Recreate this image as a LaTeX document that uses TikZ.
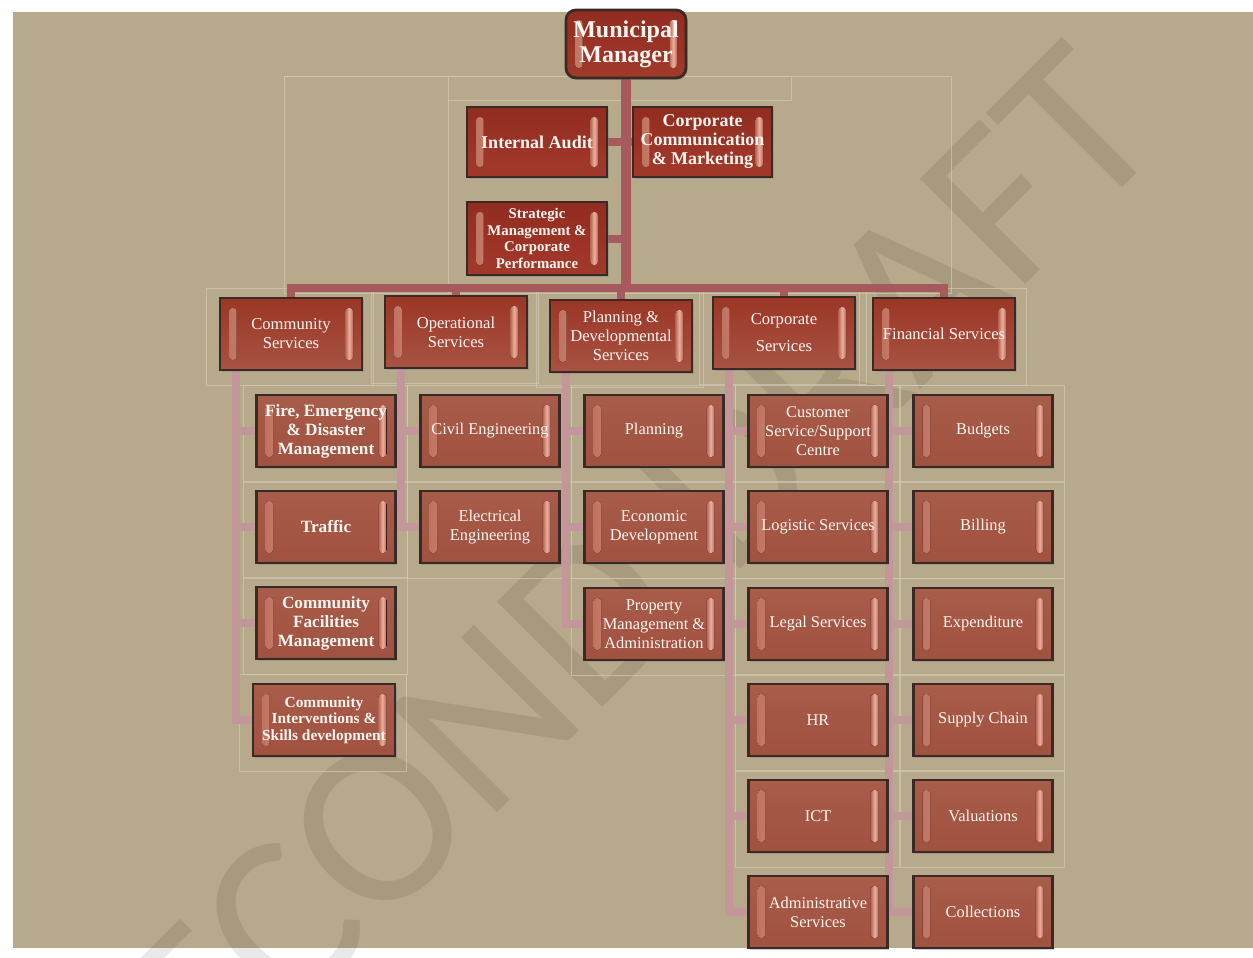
\documentclass[tikz,border=0pt]{standalone}
\usepackage{fontspec}
\setmainfont{Liberation Serif}
\newfontfamily\wmfont{Carlito}
\usetikzlibrary{calc,shadows}
\definecolor{tanbg}{HTML}{B7A98B}
\definecolor{boxborder}{HTML}{3A2A25}
\definecolor{topT}{HTML}{922C20}
\definecolor{topB}{HTML}{A23A2C}
\definecolor{deptT}{HTML}{9B3626}
\definecolor{deptB}{HTML}{A85343}
\definecolor{subT}{HTML}{A85C4A}
\definecolor{subB}{HTML}{A15140}
\definecolor{hlo}{HTML}{B86A58}
\definecolor{hli}{HTML}{EDAE9E}
\definecolor{boxtext}{HTML}{FFF6F2}
\definecolor{topc}{HTML}{A75A5B}
\definecolor{railc}{HTML}{C39799}
\definecolor{ghost}{HTML}{D2C9B4}
\pgfdeclarelayer{back}
\pgfdeclarelayer{conn}
\pgfsetlayers{back,conn,main}
\tikzset{
  obox/.style={draw=boxborder, line width=1.4pt, text=boxtext, align=center, inner sep=1pt,
    drop shadow={shadow xshift=0.9pt,shadow yshift=-0.9pt,opacity=0.4},
    path picture={
      \fill[left color=hlo,right color=hlo,middle color=hli,rounded corners=1.6pt]
        ($(path picture bounding box.south west)+(4.5pt,5pt)$) rectangle
        ($(path picture bounding box.north west)+(8.3pt,-5pt)$);
      \fill[left color=hlo,right color=hlo,middle color=hli,rounded corners=1.6pt]
        ($(path picture bounding box.south east)+(-4.5pt,5pt)$) rectangle
        ($(path picture bounding box.north east)+(-8.3pt,-5pt)$);
    }},
  topbox/.style={obox, minimum width=70pt, minimum height=35pt, top color=topT, bottom color=topB},
  dept/.style={obox, minimum width=71pt, minimum height=36pt, top color=deptT, bottom color=deptB,
    font=\fontsize{8.3}{9.5}\selectfont},
  sub/.style={obox, minimum width=69.5pt, minimum height=36pt, top color=subT, bottom color=subB,
    font=\fontsize{8.2}{9.5}\selectfont},
  subb/.style={sub, font=\fontsize{8.6}{9.5}\selectfont\bfseries},
  wm/.style={rotate=45, anchor=base east, inner sep=0pt, font=\wmfont\fontsize{116}{116}\selectfont},
  topline/.style={draw=topc, line width=4pt},
  rail/.style={draw=railc, line width=4pt},
  ghostline/.style={draw=ghost, line width=0.4pt, opacity=0.7}
}
\begin{document}
\begin{tikzpicture}[x=0.5pt,y=-0.5pt]
\useasboundingbox (0,0) rectangle (1253,958);
\begin{pgfonlayer}{back}
\fill[white] (0,0) rectangle (1253,958);
\fill[tanbg] (13,12) rectangle (1253,948);
\node[wm, text=black, opacity=0.085] (wmark) at (1170,140) {SECOND DRAFT};
\draw[ghostline] (284,76) rectangle (951,293);
\draw[ghostline] (448,76) -- (448,293);
\draw[ghostline] (284,76) -- (791,76) -- (791,100) -- (448,100);
\end{pgfonlayer}

% top level
\node[topbox, rounded corners=5pt, minimum width=60pt, minimum height=34pt,
  font=\fontsize{12}{12.5}\selectfont\bfseries] (mm) at (626,44) {Municipal\\Manager};
\node[topbox, font=\fontsize{9}{9.5}\selectfont\bfseries] (ia) at (537,142) {Internal Audit};
\node[topbox, minimum width=69.5pt, font=\fontsize{9}{9.5}\selectfont\bfseries] (cc) at (702.5,142) {Corporate\\Communication\\\& Marketing};
\node[topbox, minimum height=36.5pt, font=\fontsize{7.4}{8.2}\selectfont\bfseries] (sm) at (537,238.5) {Strategic\\Management \&\\Corporate\\Performance};

% departments
\node[dept] (cs) at (291,334) {Community\\Services};
\node[dept] (os) at (456,332) {Operational\\Services};
\node[dept] (pd) at (621,336) {Planning \&\\Developmental\\Services};
\node[dept] (cps) at (784,333) {Corporate\\[4pt]Services};
\node[dept] (fs) at (944,334) {Financial Services};

% column 1
\node[subb] (fire) at (326,431) {Fire, Emergency\\\& Disaster\\Management};
\node[subb] (traffic) at (326,527) {Traffic};
\node[subb] (cfm) at (326,623) {Community\\Facilities\\Management};
\node[sub, minimum width=71pt, font=\fontsize{7.7}{8.2}\selectfont\bfseries] (cis) at (324,720) {Community\\Interventions \&\\Skills development};
% column 2
\node[sub] (civil) at (490,431) {Civil Engineering};
\node[sub] (elec) at (490,527) {Electrical\\Engineering};
% column 3
\node[sub] (plan) at (654,431) {Planning};
\node[sub] (econ) at (654,527) {Economic\\Development};
\node[sub] (prop) at (654,624) {Property\\Management \&\\Administration};
% column 4
\node[sub] (cust) at (818,431) {Customer\\Service/Support\\Centre};
\node[sub] (logi) at (818,527) {Logistic Services};
\node[sub] (legal) at (818,624) {Legal Services};
\node[sub] (hr) at (818,720) {HR};
\node[sub] (ict) at (818,816) {ICT};
\node[sub] (admin) at (818,912) {Administrative\\Services};
% column 5
\node[sub] (budg) at (983,431) {Budgets};
\node[sub] (bill) at (983,527) {Billing};
\node[sub] (expd) at (983,624) {Expenditure};
\node[sub] (supp) at (983,720) {Supply Chain};
\node[sub] (valu) at (983,816) {Valuations};
\node[sub] (coll) at (983,912) {Collections};

\begin{pgfonlayer}{back}
\foreach \n in {cs,os,pd,cps,fs,fire,traffic,cfm,cis,civil,elec,plan,econ,prop,
    cust,logi,legal,hr,ict,budg,bill,expd,supp,valu}
  \draw[ghostline] ($(\n.south west)+(-6pt,-7pt)$) rectangle ($(\n.north east)+(5pt,4pt)$);
\end{pgfonlayer}

\begin{pgfonlayer}{conn}
\coordinate (bar) at (626,288);
\draw[topline, line width=5pt] (mm.south) -- (mm.south |- bar);
\draw[topline] (ia.east) -- (ia.east -| mm.south);
\draw[topline] (cc.west) -- (cc.west -| mm.south);
\draw[topline] (sm.east) -- (sm.east -| mm.south);
\draw[topline, line join=miter] (cs.north) -- (cs.north |- bar) -- (fs.north |- bar) -- (fs.north);
\foreach \d in {os,pd,cps} \draw[topline] (\d.north) -- (\d.north |- bar);
\foreach \p/\l in {cs/{fire,traffic,cfm,cis}, os/{civil,elec}, pd/{plan,econ,prop},
    cps/{cust,logi,legal,hr,ict,admin}, fs/{budg,bill,expd,supp,valu,coll}} {
  \coordinate (r) at ([xshift=8.5pt]\p.south west);
  \foreach \c in \l \draw[rail] (r) |- (\c.west);
}
\end{pgfonlayer}
\end{tikzpicture}
\end{document}
